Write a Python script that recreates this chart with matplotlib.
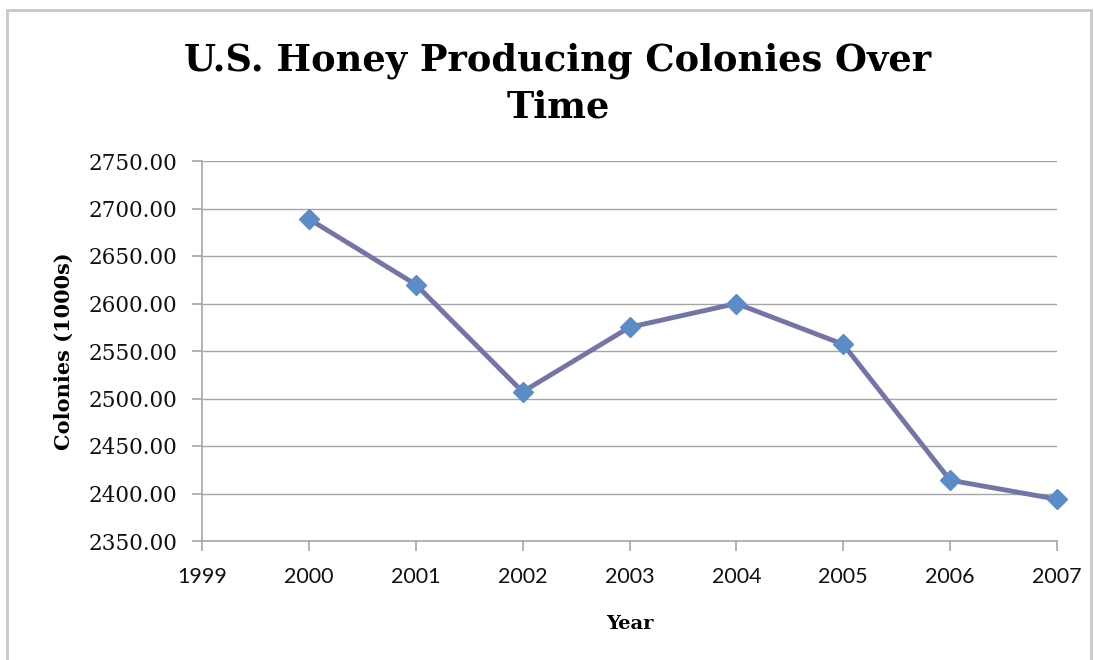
import matplotlib
matplotlib.use("Agg")
import matplotlib.pyplot as plt
from matplotlib.patches import Rectangle

# data
years = [2000, 2001, 2002, 2003, 2004, 2005, 2006, 2007]
colonies = [2689, 2620, 2507, 2575, 2600, 2557, 2414, 2394]
y_ticks = [2350, 2400, 2450, 2500, 2550, 2600, 2650, 2700, 2750]
x_ticks = [1999, 2000, 2001, 2002, 2003, 2004, 2005, 2006, 2007]

serif = "DejaVu Serif"
sans = "Lato"
grid_col = "#a6a6a6"

fig = plt.figure(figsize=(10.94, 6.6), dpi=100)

# light grey frame around the chart area
fig.patches.append(Rectangle((7 / 1094, -0.05), 1 - 10 / 1094, 1 - 10 / 660 + 0.05,
                             transform=fig.transFigure, fill=False,
                             edgecolor="#c8c8c8", linewidth=2))

ax = fig.add_axes([202 / 1094, 1 - 541 / 660, 855 / 1094, 380 / 660])

ax.plot(years, colonies, color="#7375a8", linewidth=3.5, zorder=3,
        marker="D", markersize=10, markerfacecolor="#5b8cc8",
        markeredgecolor="#5b8cc8", clip_on=False)

ax.set_xlim(1999, 2007)
ax.set_ylim(2350, 2750)
ax.set_xticks(x_ticks)
ax.set_yticks(y_ticks)
ax.set_yticklabels(["%.2f" % v for v in y_ticks], fontfamily=serif, fontsize=15.5)
ax.set_xticklabels([str(v) for v in x_ticks], fontfamily=sans, fontsize=15.5)

ax.grid(axis="y", color=grid_col, linewidth=1)
ax.set_axisbelow(True)
for s in ["top", "right"]:
    ax.spines[s].set_visible(False)
for s in ["left", "bottom"]:
    ax.spines[s].set_color(grid_col)
    ax.spines[s].set_linewidth(1.2)
ax.tick_params(axis="both", colors=grid_col, length=7, width=1.2)
ax.tick_params(axis="y", labelcolor="#111111", pad=11)
ax.tick_params(axis="x", labelcolor="#111111", pad=12)

ax.set_ylabel("Colonies (1000s)", fontfamily=serif, fontweight="bold",
              fontsize=15, labelpad=10)
ax.set_xlabel("Year", fontfamily=serif, fontweight="bold", fontsize=14,
              labelpad=20)

fig.text(558 / 1094, 1 - 84 / 660, "U.S. Honey Producing Colonies Over\nTime",
         ha="center", va="center", fontfamily=serif, fontweight="bold",
         fontsize=26.5, linespacing=1.35)

fig.savefig("out.png", dpi=100)
